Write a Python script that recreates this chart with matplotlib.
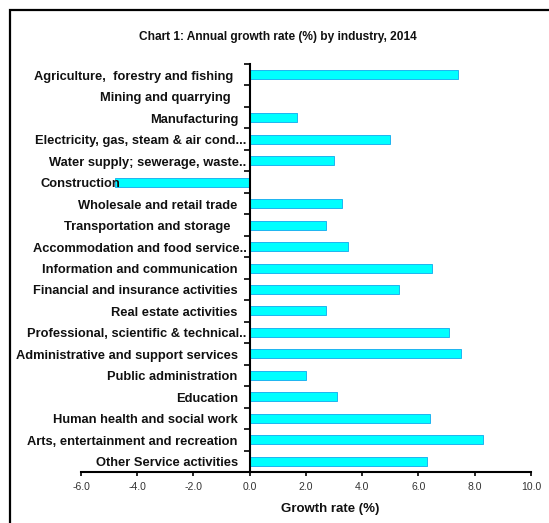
import numpy as np
import matplotlib.pyplot as plt
from matplotlib.patches import Rectangle
from matplotlib.transforms import offset_copy

plt.rcParams['font.family'] = ['Liberation Sans', 'DejaVu Sans']

industries = [
    "Agriculture,  forestry and fishing",
    "Mining and quarrying",
    "Manufacturing",
    "Electricity, gas, steam & air cond...",
    "Water supply; sewerage, waste..",
    "Construction",
    "Wholesale and retail trade",
    "Transportation and storage",
    "Accommodation and food service..",
    "Information and communication",
    "Financial and insurance activities",
    "Real estate activities",
    "Professional, scientific & technical..",
    "Administrative and support services",
    "Public administration",
    "Education",
    "Human health and social work",
    "Arts, entertainment and recreation",
    "Other Service activities",
]
growth = [7.4, 0.0, 1.7, 5.0, 3.0, -4.8, 3.3, 2.7, 3.5, 6.5,
          5.3, 2.7, 7.1, 7.5, 2.0, 3.1, 6.4, 8.3, 6.3]
xticks = [-6.0, -4.0, -2.0, 0.0, 2.0, 4.0, 6.0, 8.0, 10.0]

# gap (px) between the axis line and the right end of each category label
label_gap = [16, 19, 11, 3, 3, 129, 12, 19, 3, 12,
             12, 12, 3, 12, 12, 12, 12, 12, 12]

fig = plt.figure(figsize=(5.49, 5.23), dpi=100)
ax = fig.add_axes([0.1475, 0.0975, 0.8195, 0.7801])

y = np.arange(len(industries))
ax.barh(y, growth, height=0.42, color='#00FFFF', edgecolor='#1EB4F0', linewidth=0.7, zorder=1)

ax.set_ylim(len(industries) - 0.5, -0.5)
ax.set_xlim(-6, 10)

# category labels drawn as text, tick marks on the category boundaries
ax.set_yticks([])
ax.set_yticks(np.arange(-0.5, len(industries)), minor=True)
ax.tick_params(axis='y', which='minor', length=4, width=1.2, direction='out', color='black')
for yi, name, gap in zip(y, industries, label_gap):
    tr = offset_copy(ax.transData, fig=fig, x=-gap, y=-2, units='dots')
    ax.text(0, yi, name, transform=tr, ha='right', va='center',
            fontsize=9.3, fontweight='bold', color='#111111', zorder=3)

ax.set_xticks(xticks)
ax.set_xticklabels([f"{v:.1f}" for v in xticks], fontsize=7.5, color='#333333')
ax.tick_params(axis='x', length=3, width=1.2, direction='out', pad=4, color='black')

ax.spines['top'].set_visible(False)
ax.spines['right'].set_visible(False)
ax.spines['left'].set_position(('data', 0))
ax.spines['left'].set_linewidth(1.5)
ax.spines['bottom'].set_linewidth(1.5)

ax.set_xlabel('Growth rate (%)', fontsize=9.5, fontweight='bold', color='#111111')
ax.xaxis.set_label_coords(0.553, -0.075)

fig.text(0.507, 0.929, 'Chart 1: Annual growth rate (%) by industry, 2014',
         ha='center', va='center', fontsize=8.6, fontweight='bold', color='#111111')

# outer frame running off the right and bottom edges
W, H = 549, 523
fig.patches.append(Rectangle((10 / W, -0.1), 1.2, (H - 10) / H + 0.1,
                             transform=fig.transFigure, fill=False,
                             edgecolor='black', linewidth=1.6))

fig.savefig('out.png', dpi=100)
